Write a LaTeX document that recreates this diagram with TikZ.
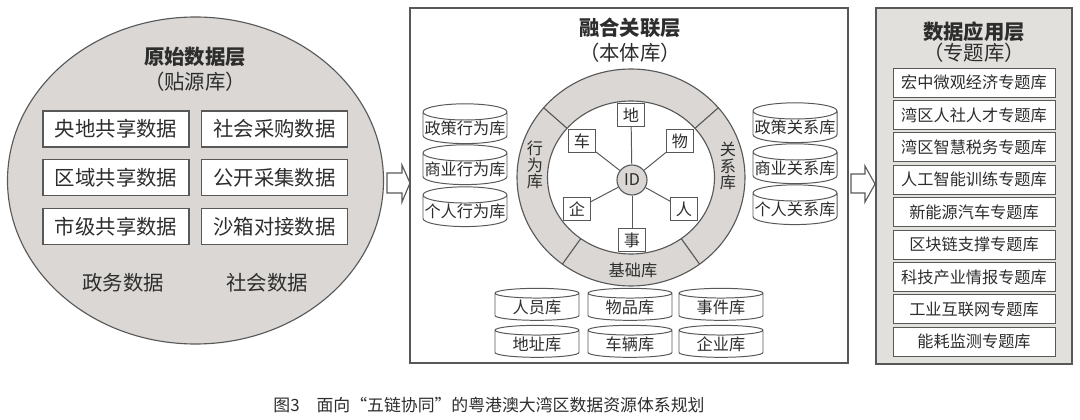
\documentclass[tikz,border=0pt]{standalone}
\usepackage{fontspec}
\setmainfont{Noto Sans CJK SC}
\usetikzlibrary{shapes.geometric,positioning}

\def\px{0.025cm}
\definecolor{fillgray}{RGB}{218,215,212}
\definecolor{panelgray}{RGB}{226,224,221}
\definecolor{linegray}{RGB}{88,88,88}
\definecolor{textgray}{RGB}{45,45,45}

\newcommand{\titlefont}{\fontsize{14.5}{17}\selectfont\bfseries}
\newcommand{\bodyfont}{\fontsize{14.5}{17}\selectfont}
\newcommand{\libfont}{\fontsize{11.5}{12}\selectfont}
\newcommand{\capfont}{\fontsize{12}{14}\selectfont}

\tikzset{
  every node/.style={text=textgray},
  srcbox/.style={draw=linegray,fill=white,line width=0.8pt,minimum width=146*\px,
    minimum height=36*\px,inner sep=0pt,font=\bodyfont},
  dbcyl/.style={cylinder,shape border rotate=90,aspect=0.2,draw=linegray,fill=white,
    line width=0.7pt,minimum width=84*\px,minimum height=32*\px,inner sep=0pt,font=\libfont},
  topicbox/.style={draw=linegray,fill=white,line width=0.7pt,minimum width=162*\px,
    minimum height=29*\px,inner sep=0pt,font=\libfont},
  elembox/.style={draw=linegray,fill=white,line width=0.7pt,minimum width=27*\px,
    minimum height=23*\px,inner sep=0pt,font=\libfont},
  blockarrow/.style={draw=linegray,fill=white,line width=0.8pt,line join=miter}
}

\begin{document}
\begin{tikzpicture}[x=\px,y=-\px]
  \useasboundingbox (0,0) rectangle (1080,420);

  % original data layer
  \node[ellipse,draw=linegray,fill=fillgray,line width=0.8pt,
    minimum width=376*\px,minimum height=327*\px] (raw) at (195.5,180.5) {};
  \node[font=\titlefont] (rawtitle) at (195,57) {原始数据层};
  \node[font=\bodyfont] (rawsub) at (195,82) {（贴源库）};
  \node[srcbox] (gov1) at (116,129) {央地共享数据};
  \node[srcbox] (gov2) at (116,177.5) {区域共享数据};
  \node[srcbox] (gov3) at (116,226.5) {市级共享数据};
  \node[srcbox] (soc1) at (274.5,129) {社会采购数据};
  \node[srcbox] (soc2) at (274.5,177.5) {公开采集数据};
  \node[srcbox] (soc3) at (274.5,226.5) {沙箱对接数据};
  \node[font=\bodyfont] (govlab) at (123,283) {政务数据};
  \node[font=\bodyfont] (soclab) at (267,283) {社会数据};

  \draw[blockarrow] (387,173) -- (402,173) -- (402,165) -- (410,183) -- (402,202)
    -- (402,193) -- (387,193) -- cycle;

  % fusion layer
  \node[draw=linegray,line width=0.9pt,minimum width=438*\px,minimum height=355*\px]
    (fuse) at (629,185.5) {};
  \node[font=\titlefont] (fusetitle) at (630,28) {融合关联层};
  \node[font=\bodyfont] (fusesub) at (630,53) {（本体库）};

  \fill[fillgray,even odd rule] (631,177.5) ellipse[x radius=114,y radius=108.5]
    (631,177.5) ellipse[x radius=83.5,y radius=76.5];
  \draw[linegray,line width=0.8pt] (631,177.5) ellipse[x radius=114,y radius=108.5]
    (631,177.5) ellipse[x radius=83.5,y radius=76.5];
  \foreach \a in {40,140,233,307}
    \draw[linegray,line width=0.8pt] ({631+83.5*cos(\a)},{177.5-76.5*sin(\a)})
      -- ({631+114*cos(\a)},{177.5-108.5*sin(\a)});
  \node[font=\libfont,align=center] (xwk) at (535,165) {行\\为\\库};
  \node[font=\libfont,align=center] (gxk) at (728,166) {关\\系\\库};
  \node[font=\libfont] (jck) at (633,270) {基础库};

  \node[circle,draw=linegray,fill=fillgray,line width=0.8pt,minimum size=30*\px,
    inner sep=0pt,font=\fontsize{11.5}{11.5}\selectfont] (id) at (632,180) {ID};
  \node[elembox] (di) at (631,115) {地};
  \node[elembox] (che) at (582,141) {车};
  \node[elembox] (wu) at (680,141) {物};
  \node[elembox] (qi) at (577,209) {企};
  \node[elembox] (ren) at (684,209) {人};
  \node[elembox] (shi) at (632,240) {事};
  \foreach \e in {di,che,wu,qi,ren,shi}
    \draw[linegray,line width=0.7pt] (id) -- (\e);

  \node[dbcyl] (zcxw) at (465,128) {政策行为库};
  \node[dbcyl] (syxw) at (465,169) {商业行为库};
  \node[dbcyl] (grxw) at (465,211) {个人行为库};
  \node[dbcyl] (zcgx) at (795,127) {政策关系库};
  \node[dbcyl] (sygx) at (795,168) {商业关系库};
  \node[dbcyl] (grgx) at (795,209) {个人关系库};

  \node[dbcyl] (ryk) at (537,307) {人员库};
  \node[dbcyl] (wpk) at (630,307) {物品库};
  \node[dbcyl] (sjk) at (721,307) {事件库};
  \node[dbcyl] (dzk) at (537,344) {地址库};
  \node[dbcyl] (clk) at (630,344) {车辆库};
  \node[dbcyl] (qyk) at (721,344) {企业库};

  \draw[blockarrow] (851,174) -- (865,174) -- (865,166) -- (875,184) -- (865,202)
    -- (865,193) -- (851,193) -- cycle;

  % application layer
  \node[draw=linegray,fill=panelgray,line width=0.9pt,minimum width=196*\px,
    minimum height=356*\px] (app) at (974,186) {};
  \node[font=\titlefont] (apptitle) at (974,32) {数据应用层};
  \node[font=\bodyfont] (appsub) at (974,53) {（专题库）};
  \foreach \t [count=\i from 0] in {宏中微观经济专题库,湾区人社人才专题库,
      湾区智慧税务专题库,人工智能训练专题库,新能源汽车专题库,区块链支撑专题库,
      科技产业情报专题库,工业互联网专题库,能耗监测专题库}
    \node[topicbox] (topic\i) at (974,{82.5+32.4*\i}) {\t};

  \node[font=\capfont] (cap) at (489,405)
    {图3\hspace{1em}面向“五链协同”的粤港澳大湾区数据资源体系规划};
\end{tikzpicture}
\end{document}
